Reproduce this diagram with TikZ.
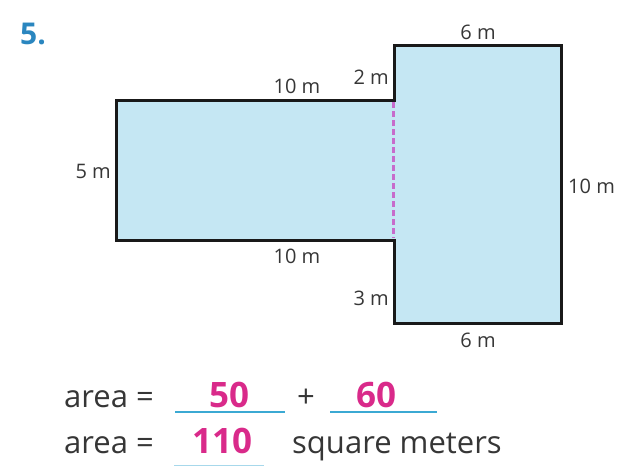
\documentclass[tikz,border=0pt]{standalone}
\usepackage{fontspec}
\setmainfont{Open Sans}
\definecolor{fillblue}{HTML}{C5E7F3}
\definecolor{ink}{HTML}{363636}
\definecolor{answer}{HTML}{D92A8A}
\definecolor{uline}{HTML}{3BA9D3}
\definecolor{numblue}{HTML}{2A86BF}
\definecolor{dashpink}{HTML}{C76CCB}
\tikzset{
  dim/.style={text=ink, font=\fontsize{20}{20}\selectfont, inner sep=0pt},
  eq/.style={text=ink, font=\fontsize{31}{31}\selectfont, inner sep=0pt, anchor=base west},
  ans/.style={text=answer, font=\bfseries\fontsize{35}{35}\selectfont, inner sep=0pt, anchor=base},
  blank/.style={uline, line width=1.8pt},
  outline/.style={draw=black!90, line width=3pt, fill=fillblue, line join=miter},
  cutline/.style={draw=dashpink, line width=2.2pt, dash pattern=on 6pt off 3pt},
}
\begin{document}
\begin{tikzpicture}[x=1pt,y=-1pt]
\useasboundingbox (0,0) rectangle (620,466);
\node[text=numblue, font=\bfseries\fontsize{30}{30}\selectfont, anchor=base west, inner sep=0pt] (num) at (20,44) {5.};
% shape
\draw[outline] (116,100) -- (394,100) -- (394,45) -- (561,45) -- (561,323) -- (394,323) -- (394,240) -- (116,240) -- cycle;
\coordinate (dtop) at (393.5,102);
\coordinate (dbot) at (393.5,238);
\draw[cutline] (dtop) -- (dbot);
% dimension labels
\node[dim, anchor=base] (t6) at (478,39) {6 m};
\node[dim, anchor=base east] (t2) at (389,84) {2 m};
\node[dim, anchor=base] (t10a) at (297,93) {10 m};
\node[dim, anchor=base east] (l5) at (111,178) {5 m};
\node[dim, anchor=base west] (r10) at (568,193) {10 m};
\node[dim, anchor=base] (t10b) at (297,263) {10 m};
\node[dim, anchor=base east] (b3) at (389,305) {3 m};
\node[dim, anchor=base] (b6) at (478,347) {6 m};
% equations
\node[eq] (a1) at (64,407) {area =};
\node[ans] (v50) at (229,407) {50};
\node[eq, anchor=base] (plus) at (306,407) {+};
\node[ans] (v60) at (376,407) {60};
\coordinate (u1a) at (175,412); \coordinate (u1b) at (285,412);
\coordinate (u2a) at (330,412); \coordinate (u2b) at (437,412);
\draw[blank] (u1a) -- (u1b);
\draw[blank] (u2a) -- (u2b);
\node[eq] (a2) at (64,453) {area =};
\node[ans] (v110) at (222,453) {110};
\node[eq] (sq) at (292,453) {square meters};
\coordinate (u3a) at (174,465.5); \coordinate (u3b) at (264,465.5);
\draw[blank, uline!45] (u3a) -- (u3b);
\end{tikzpicture}
\end{document}
